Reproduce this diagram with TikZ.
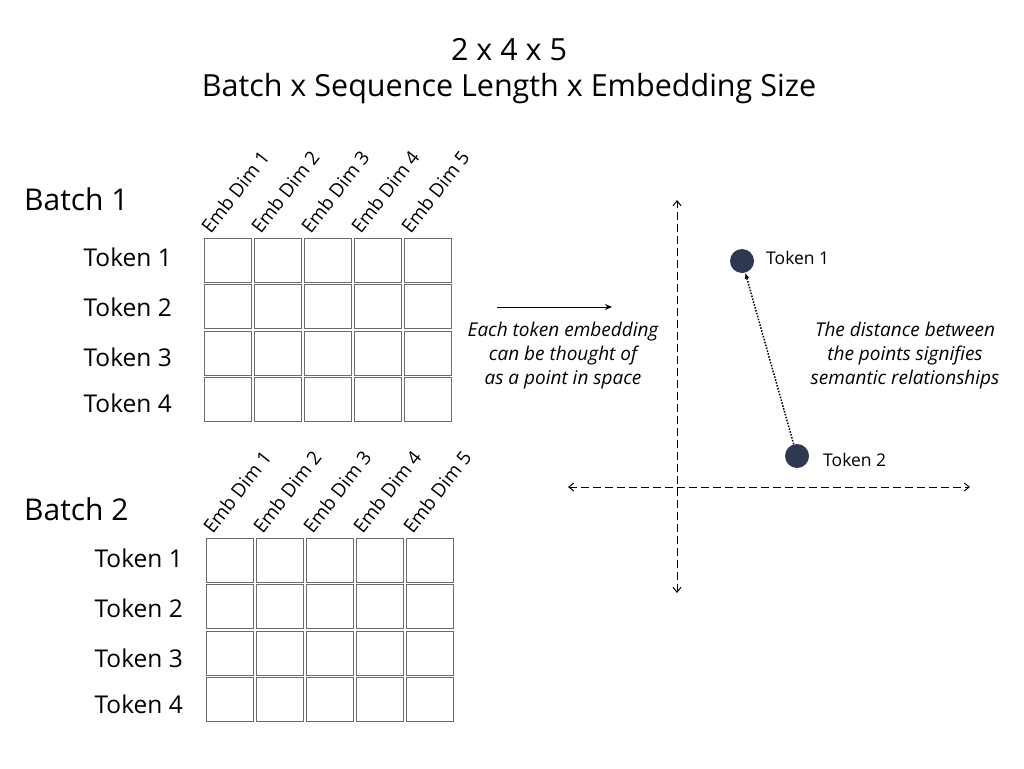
\documentclass[tikz,border=0pt]{standalone}
\usepackage{fontspec}
\setmainfont{Open Sans}
\usetikzlibrary{arrows.meta}
\definecolor{dotC}{HTML}{2E3850}
\begin{document}
\begin{tikzpicture}[x=1pt,y=1pt,cellS/.style={shape=rectangle,draw=gray!85!black,line width=0.7pt,minimum width=47pt,minimum height=44pt,inner sep=0pt},tokS/.style={anchor=east,inner sep=0pt,font=\fontsize{24.5}{27}\selectfont},batchS/.style={anchor=west,inner sep=0pt,font=\fontsize{30}{33}\selectfont},dimS/.style={anchor=south west,rotate=52,inner sep=0pt,font=\fontsize{19}{21}\selectfont},noteS/.style={align=center,font=\itshape\fontsize{19}{24}\selectfont},dotS/.style={shape=circle,fill=dotC,minimum size=24pt,inner sep=0pt},ptS/.style={anchor=west,inner sep=0pt,font=\fontsize{17.5}{19}\selectfont},axisS/.style={line width=1pt,dash pattern=on 8pt off 4pt,{Straight Barb[length=5pt,width=8pt]}-{Straight Barb[length=5pt,width=8pt]}}]
\useasboundingbox (0,0) rectangle (1024,-768);
\node[font=\fontsize{30.5}{34}\selectfont] (title1) at (509,-50) {2 x 4 x 5};
\node[font=\fontsize{30.5}{34}\selectfont] (title2) at (509,-89) {Batch x Sequence Length x Embedding Size};

% batch 1
\node[batchS] (B1) at (24,-199) {Batch 1};
\foreach \r/\y in {1/-257,2/-307,3/-357,4/-403}
  \node[tokS] (b1t\r) at (172,\y) {Token \r};
\foreach \c in {1,...,5}{
  \node[dimS] (b1d\c) at (203+50*\c-42,-235) {Emb Dim \c};
  \foreach \r in {1,...,4}
    \node[cellS] (b1c\c\r) at (178+50*\c,-213.8-46.5*\r) {};
}

% batch 2
\node[batchS] (B2) at (24,-509) {Batch 2};
\foreach \r/\y in {1/-558,2/-608,3/-658,4/-704}
  \node[tokS] (b2t\r) at (183,\y) {Token \r};
\foreach \c in {1,...,5}{
  \node[dimS] (b2d\c) at (205+50*\c-42,-535) {Emb Dim \c};
  \foreach \r in {1,...,4}
    \node[cellS] (b2c\c\r) at (180+50*\c,-513.8-46.5*\r) {};
}

% embedding space
\coordinate (arrS) at (497,-307);
\coordinate (arrE) at (612,-307);
\draw[line width=1pt,-{Stealth[length=7pt,width=6pt]}] (arrS) -- (arrE);
\node[noteS] (note1) at (563,-356) {Each token embedding\\can be thought of\\as a point in space};

\coordinate (yT) at (677,-200);
\coordinate (yB) at (677,-593);
\coordinate (xL) at (568,-487);
\coordinate (xR) at (970,-487);
\draw[axisS] (yB) -- (yT);
\draw[axisS] (xL) -- (xR);

\node[dotS] (p1) at (742,-261) {};
\node[ptS] (l1) at (766,-258) {Token 1};
\node[dotS] (p2) at (797,-456) {};
\node[ptS] (l2) at (823,-460) {Token 2};
\draw[line width=1.5pt,dash pattern=on 1.5pt off 1.5pt,-{Latex[length=6pt,width=5pt]}] (p2) -- (p1);
\node[noteS] (note2) at (905,-356) {The distance between\\the points signifies\\semantic relationships};
\end{tikzpicture}
\end{document}
